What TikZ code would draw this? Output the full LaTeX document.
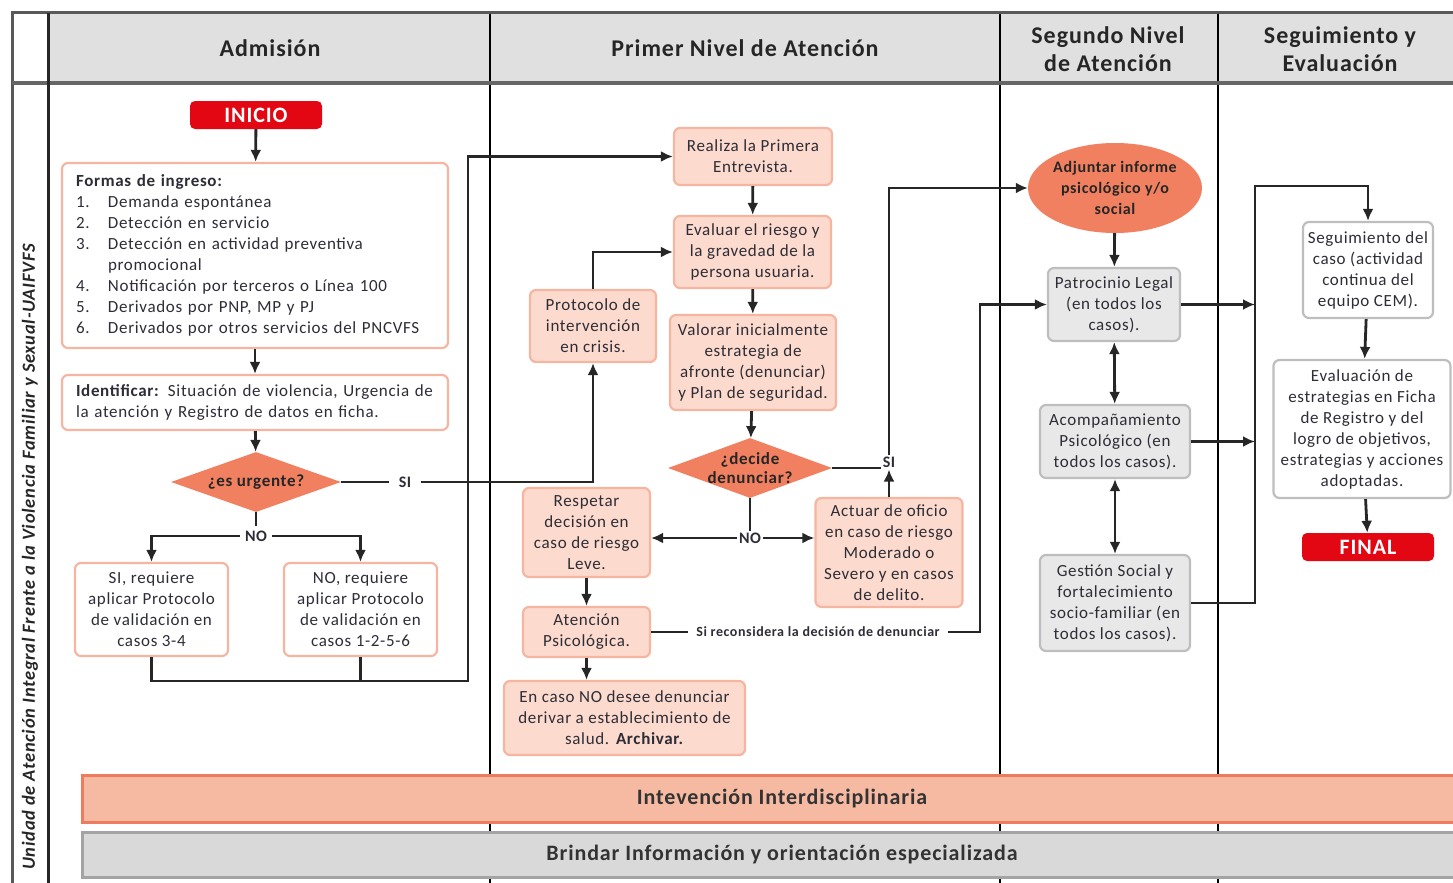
\documentclass[tikz,border=0pt]{standalone}
\usepackage{fontspec}
\setmainfont{Carlito}[LetterSpace=4]
\usetikzlibrary{shapes.geometric,arrows.meta}

\definecolor{salmon}{RGB}{240,128,96}
\definecolor{peachF}{RGB}{252,218,205}
\definecolor{peachB}{RGB}{245,181,160}
\definecolor{grayF}{RGB}{232,232,232}
\definecolor{grayB}{RGB}{190,190,190}
\definecolor{headgray}{RGB}{224,224,224}
\definecolor{rojo}{RGB}{227,6,19}
\definecolor{barS}{RGB}{246,185,162}
\definecolor{barSB}{RGB}{238,123,94}
\definecolor{barG}{RGB}{217,217,217}
\definecolor{barGB}{RGB}{163,163,163}
\definecolor{txt}{RGB}{45,45,55}

\newcommand\cuerpo{\fontsize{17}{21}\selectfont}

\begin{document}
\begin{tikzpicture}[x=1pt,y=-1pt,>={Latex[length=12pt,width=11pt]},
    con/.style={draw=black!85,line width=2.8pt},
    box/.style={line width=2.2pt,rounded corners=6pt,align=center,inner sep=0pt,font=\cuerpo,text=txt},
    pbox/.style={box,draw=peachB,fill=peachF},
    wbox/.style={box,draw=peachB,fill=white},
    gbox/.style={box,draw=grayB,fill=grayF},
    sbox/.style={box,draw=grayB,fill=white},
    redbox/.style={fill=rojo,rounded corners=5pt,text=white,inner sep=0pt,
        minimum width=132pt,minimum height=28pt,font=\bfseries\fontsize{22}{24}\selectfont},
    diam/.style={diamond,fill=salmon,inner sep=0pt},
    diamtxt/.style={align=center,text=black!85,font=\bfseries\fontsize{17}{19}\selectfont},
    lbl/.style={fill=white,inner sep=5pt,text=txt,font=\bfseries\fontsize{16}{18}\selectfont},
    head/.style={align=center,text=black!85,font=\bfseries\fontsize{24}{28}\selectfont}]
    \useasboundingbox (0,0) rectangle (1453,883);

    % Draw lanes
    \fill[headgray] (48,13) rectangle (1453,83);
    \foreach \x in {490,1000,1218}
       {
            \draw[black,line width=2.8pt] (\x,13) -- (\x,883);
       }
    \draw[black!65,line width=3pt] (12,883) -- (12,13) -- (1453,13);
    \draw[black!60,line width=4pt] (12,83) -- (1453,83);
    \draw[black!85,line width=3pt] (48,13) -- (48,883);

    \node[head] (h_admision) at (270,48) {Admisión};
    \node[head] (h_primer) at (745,48) {Primer Nivel de Atención};
    \node[head] (h_segundo) at (1108,49) {Segundo Nivel\\de Atención};
    \node[head] (h_seguim) at (1340,49) {Seguimiento y\\Evaluación};

    \node[rotate=90,text=black!85,font=\bfseries\itshape\fontsize{18.5}{20}\selectfont] (titulo) at (30,557)
        {Unidad de Atención Integral Frente a la Violencia Familiar y Sexual-UAIFVFS};

    % Bars
    \node[draw=barSB,fill=barS,line width=3pt,minimum width=1400pt,minimum height=47pt,
        font=\bfseries\fontsize{22}{24}\selectfont,text=black!80] (interdis) at (782,798.5) {Intevención Interdisciplinaria};
    \node[draw=barGB,fill=barG,line width=3pt,minimum width=1400pt,minimum height=45pt,
        font=\bfseries\fontsize{22}{24}\selectfont,text=black!80] (brindar) at (782,854.5) {Brindar Información y orientación especializada};

    % Admision
    \node[redbox] (inicio) at (256,115) {INICIO};
    \node[wbox,align=left,text width=358pt,inner xsep=14pt,minimum height=185pt] (formas) at (255,255.5)
        {\textbf{Formas de ingreso:}\\
         \makebox[32pt][l]{1.}Demanda espontánea\\
         \makebox[32pt][l]{2.}Detección en servicio\\
         \makebox[32pt][l]{3.}Detección en actividad preventiva\\
         \hspace*{32pt}promocional\\
         \makebox[32pt][l]{4.}Notificación por terceros o Línea 100\\
         \makebox[32pt][l]{5.}Derivados por PNP, MP y PJ\\
         \makebox[32pt][l]{6.}Derivados por otros servicios del PNCVFS};
    \node[wbox,align=left,text width=358pt,inner xsep=14pt,minimum height=55pt] (identificar) at (255,402.5)
        {\textbf{Identificar:} Situación de violencia, Urgencia de\\la atención y Registro de datos en ficha.};
    \node[diam,minimum width=170pt,minimum height=60pt,
        label={[diamtxt]center:¿es urgente?}] (es_urgente) at (256,482) {};
    \node[wbox,minimum width=153pt,minimum height=93pt] (si_req) at (151.5,609.5)
        {SI, requiere\\aplicar Protocolo\\de validación en\\casos 3-4};
    \node[wbox,minimum width=153pt,minimum height=93pt] (no_req) at (360.5,609.5)
        {NO, requiere\\aplicar Protocolo\\de validación en\\casos 1-2-5-6};
    \node[lbl] (no_a) at (256,536) {NO};
    \node[lbl,inner xsep=10pt] (si_a) at (405,482) {SI};
    \coordinate (junta) at (468,681);

    % Primer nivel
    \node[pbox,minimum width=158pt,minimum height=57pt] (primera) at (753,156.5) {Realiza la Primera\\Entrevista.};
    \node[pbox,minimum width=157pt,minimum height=72pt] (evaluar) at (752.5,252) {Evaluar el riesgo y\\la gravedad de la\\persona usuaria.};
    \node[pbox,minimum width=166pt,minimum height=95pt] (valorar) at (753,362.5) {Valorar inicialmente\\estrategia de\\afronte (denunciar)\\y Plan de seguridad.};
    \node[pbox,minimum width=126pt,minimum height=72pt] (protocolo) at (593,326) {Protocolo de\\intervención\\en crisis.};
    \node[diam,minimum width=164pt,minimum height=60pt,
        label={[diamtxt]center:{¿decide\\denunciar?}}] (decide) at (750,468) {};
    \node[pbox,minimum width=127pt,minimum height=89pt] (respetar) at (586.5,532.5) {Respetar\\decisión en\\caso de riesgo\\Leve.};
    \node[pbox,minimum width=127pt,minimum height=50pt] (atencion) at (586.5,632) {Atención\\Psicológica.};
    \node[pbox,minimum width=241pt,minimum height=74pt] (en_caso) at (624.5,718) {En caso NO desee denunciar\\derivar a establecimiento de\\salud. \textbf{Archivar.}};
    \node[pbox,minimum width=147pt,minimum height=109pt] (actuar) at (889,552.5) {Actuar de oficio\\en caso de riesgo\\Moderado o\\Severo y en casos\\de delito.};
    \node[lbl,inner sep=2pt] (no_b) at (750,538) {NO};
    \node[lbl,inner sep=2pt] (si_b) at (889,462) {SI};
    \node[lbl,inner xsep=8pt,font=\bfseries\fontsize{14}{16}\selectfont] (reconsidera) at (818,632) {Si reconsidera la decisión de denunciar};
    \coordinate (giro) at (980,632);

    % Segundo nivel
    \node[ellipse,fill=salmon,inner sep=0pt,minimum width=174pt,minimum height=90pt,
        label={[diamtxt,font=\bfseries\fontsize{16}{21}\selectfont]center:{Adjuntar informe\\psicológico y/o\\social}}] (adjuntar) at (1115,188) {};
    \node[gbox,minimum width=132pt,minimum height=73pt] (patrocinio) at (1114,304.5) {Patrocinio Legal\\(en todos los\\casos).};
    \node[gbox,minimum width=150pt,minimum height=73pt] (acomp) at (1115,441.5) {Acompañamiento\\Psicológico (en\\todos los casos).};
    \node[gbox,minimum width=150pt,minimum height=96pt] (gestion) at (1115,603) {Gestión Social y\\fortalecimiento\\socio-familiar (en\\todos los casos).};
    \coordinate (colector) at (1255,186);

    % Seguimiento
    \node[sbox,minimum width=130pt,minimum height=96pt] (seguimiento) at (1368,270) {Seguimiento del\\caso (actividad\\continua del\\equipo CEM).};
    \node[sbox,minimum width=177pt,minimum height=138pt] (evaluacion) at (1362,429) {Evaluación de\\estrategias en Ficha\\de Registro y del\\logro de objetivos,\\estrategias y acciones\\adoptadas.};
    \node[redbox] (final) at (1368,547) {FINAL};

    % Connectors
    \draw[con,->] (inicio) -- (formas);
    \draw[con,->] (formas) -- (identificar);
    \draw[con,->] (identificar) -- (es_urgente);
    \draw[con] (es_urgente) -- (no_a);
    \draw[con,->] (no_a) -| (si_req);
    \draw[con,->] (no_a) -| (no_req);
    \draw[con] (es_urgente) -- (si_a);
    \draw[con,->] (si_a) -| (protocolo);
    \draw[con,->] (protocolo.north) |- (evaluar.west);
    \draw[con,->] (si_req.south) |- (junta) |- (primera.west);
    \draw[con] (no_req.south) -- (no_req.south |- junta);
    \draw[con,->] (primera) -- (evaluar);
    \draw[con,->] (evaluar) -- (valorar);
    \draw[con,->] (valorar) -- (decide);
    \draw[con] (decide) -- (no_b);
    \draw[con,->] (no_b) -- (no_b -| respetar.east);
    \draw[con,->] (no_b) -- (no_b -| actuar.west);
    \draw[con] (decide.east) -- (decide.east -| si_b.west);
    \draw[con,->] (actuar) -- (si_b);
    \draw[con,->] (si_b) |- (adjuntar.west);
    \draw[con,->] (respetar) -- (atencion);
    \draw[con,->] (atencion) -- (en_caso.north -| atencion);
    \draw[con] (atencion) -- (reconsidera);
    \draw[con,->] (reconsidera) -- (giro) |- (patrocinio.west);
    \draw[con,->] (adjuntar) -- (patrocinio);
    \draw[con,<->] (patrocinio) -- (acomp);
    \draw[con,<->] (acomp) -- (gestion);
    \draw[con,->] (patrocinio.east) -- (patrocinio.east -| colector);
    \draw[con,->] (acomp.east) -- (acomp.east -| colector);
    \draw[con,->] (gestion.east) -| (colector) -| (seguimiento.north);
    \draw[con,->] (seguimiento) -- (evaluacion);
    \draw[con,->] (evaluacion) -- (final);
\end{tikzpicture}
\end{document}
